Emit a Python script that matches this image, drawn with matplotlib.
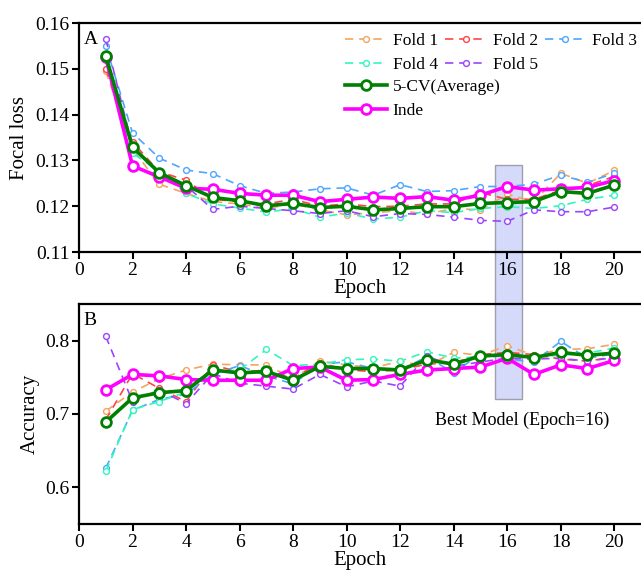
import matplotlib
matplotlib.use("Agg")
import matplotlib.pyplot as plt
from matplotlib.patches import Rectangle
import numpy as np

plt.rcParams['font.family'] = ['Liberation Serif', 'DejaVu Serif']

epochs = list(range(1, 21))

f1_loss = [0.1495, 0.1325, 0.1248, 0.1228, 0.1210, 0.1205, 0.1195, 0.1205, 0.1192, 0.1181,
           0.1186, 0.1190, 0.1183, 0.1195, 0.1192, 0.1226, 0.1210, 0.1272, 0.1250, 0.1278]
f2_loss = [0.1500, 0.1340, 0.1275, 0.1257, 0.1215, 0.1210, 0.1205, 0.1215, 0.1200, 0.1205,
           0.1199, 0.1200, 0.1205, 0.1205, 0.1230, 0.1215, 0.1215, 0.1235, 0.1245, 0.1265]
f3_loss = [0.1550, 0.1360, 0.1305, 0.1279, 0.1271, 0.1245, 0.1228, 0.1231, 0.1238, 0.1240,
           0.1224, 0.1247, 0.1232, 0.1234, 0.1243, 0.1243, 0.1248, 0.1268, 0.1252, 0.1272]
f4_loss = [0.1520, 0.1316, 0.1275, 0.1228, 0.1205, 0.1196, 0.1187, 0.1195, 0.1176, 0.1185,
           0.1172, 0.1176, 0.1190, 0.1186, 0.1195, 0.1199, 0.1195, 0.1201, 0.1215, 0.1224]
f5_loss = [0.1565, 0.1330, 0.1270, 0.1245, 0.1193, 0.1200, 0.1195, 0.1190, 0.1184, 0.1190,
           0.1177, 0.1184, 0.1182, 0.1176, 0.1169, 0.1167, 0.1192, 0.1188, 0.1188, 0.1198]
cv_loss = [0.1528, 0.1329, 0.1273, 0.1245, 0.1219, 0.1212, 0.1201, 0.1206, 0.1197, 0.1200,
           0.1192, 0.1195, 0.1199, 0.1199, 0.1206, 0.1208, 0.1210, 0.1232, 0.1228, 0.1246]
inde_loss = [0.1525, 0.1288, 0.1264, 0.1239, 0.1237, 0.1228, 0.1224, 0.1224, 0.1210, 0.1215,
             0.1220, 0.1217, 0.1221, 0.1213, 0.1224, 0.1243, 0.1235, 0.1238, 0.1241, 0.1256]

f1_acc = [0.704, 0.730, 0.748, 0.760, 0.768, 0.767, 0.767, 0.748, 0.772, 0.767,
          0.763, 0.772, 0.765, 0.784, 0.780, 0.793, 0.780, 0.788, 0.789, 0.795]
f2_acc = [0.692, 0.755, 0.735, 0.717, 0.767, 0.757, 0.760, 0.748, 0.770, 0.760,
          0.758, 0.760, 0.768, 0.770, 0.781, 0.784, 0.781, 0.775, 0.772, 0.778]
f3_acc = [0.626, 0.705, 0.720, 0.727, 0.754, 0.766, 0.752, 0.741, 0.768, 0.771,
          0.762, 0.760, 0.778, 0.756, 0.782, 0.775, 0.771, 0.799, 0.776, 0.782]
f4_acc = [0.622, 0.706, 0.717, 0.730, 0.757, 0.760, 0.788, 0.766, 0.768, 0.774,
          0.775, 0.772, 0.785, 0.776, 0.778, 0.781, 0.778, 0.780, 0.783, 0.790]
f5_acc = [0.806, 0.717, 0.733, 0.714, 0.755, 0.742, 0.738, 0.734, 0.754, 0.737,
          0.745, 0.738, 0.779, 0.765, 0.771, 0.776, 0.775, 0.776, 0.772, 0.777]
cv_acc = [0.689, 0.722, 0.729, 0.732, 0.760, 0.756, 0.758, 0.746, 0.765, 0.762,
          0.762, 0.760, 0.774, 0.768, 0.779, 0.781, 0.777, 0.784, 0.780, 0.783]
inde_acc = [0.733, 0.754, 0.752, 0.747, 0.746, 0.746, 0.746, 0.762, 0.764, 0.746,
            0.747, 0.754, 0.760, 0.762, 0.764, 0.776, 0.754, 0.767, 0.762, 0.773]

fold_labels = ['Fold 1', 'Fold 2', 'Fold 3', 'Fold 4', 'Fold 5']
fold_colors = ['#f4a460', '#ff4444', '#4da6ff', '#33f5c0', '#9b44ff']
cv_label = '5-CV(Average)'
inde_label = 'Inde'
cv_color = '#008000'
inde_color = '#ff00ff'
best_epoch = 16

W, H = 641, 573
fig = plt.figure(figsize=(W / 100, H / 100), dpi=100)

def ax_rect(left, top, right, bottom):
    return [left / W, 1 - bottom / H, (right - left) / W, (bottom - top) / H]

ax1 = fig.add_axes(ax_rect(79, 23, 641, 252))
ax2 = fig.add_axes(ax_rect(79, 304, 641, 524))

def draw(ax, folds, cv, inde):
    hs = []
    for vals, lab, col in zip(folds, fold_labels, fold_colors):
        h, = ax.plot(epochs, vals, linestyle=(0, (5, 3.5)), color=col, lw=1.2,
                     marker='o', ms=4.2, mfc='white', mec=col, mew=1.0, label=lab, zorder=2)
        hs.append(h)
    hi, = ax.plot(epochs, inde, color=inde_color, lw=2.6, marker='o', ms=7,
                  mfc='white', mec=inde_color, mew=2.0, label=inde_label, zorder=3)
    hc, = ax.plot(epochs, cv, color=cv_color, lw=2.6, marker='o', ms=7,
                  mfc='white', mec=cv_color, mew=2.0, label=cv_label, zorder=4)
    return hs, hc, hi

hs, hc, hi = draw(ax1, [f1_loss, f2_loss, f3_loss, f4_loss, f5_loss], cv_loss, inde_loss)
draw(ax2, [f1_acc, f2_acc, f3_acc, f4_acc, f5_acc], cv_acc, inde_acc)

for ax in (ax1, ax2):
    ax.set_facecolor('none')
    ax.set_xlim(0, 21)
    ax.set_xticks(range(0, 21, 2))
    ax.spines['right'].set_visible(False)
    for s in ('left', 'top', 'bottom'):
        ax.spines[s].set_linewidth(1.6)
    ax.tick_params(direction='out', length=5, width=1.5, labelsize=14, pad=2)
    ax.set_xlabel('Epoch', fontsize=15, labelpad=0)

ax1.set_ylim(0.11, 0.16)
ax1.set_yticks([0.11, 0.12, 0.13, 0.14, 0.15, 0.16])
ax1.set_yticklabels(['0.11', '0.12', '0.13', '0.14', '0.15', '0.16'])
ax1.set_ylabel('Focal loss', fontsize=15, labelpad=4)
ax2.set_ylim(0.55, 0.85)
ax2.set_yticks([0.6, 0.7, 0.8])
ax2.set_yticklabels(['0.6', '0.7', '0.8'])
ax2.set_ylabel('Accuracy', fontsize=15, labelpad=4)

ax1.text(0.008, 0.965, 'A', transform=ax1.transAxes, fontsize=14, va='top', ha='left')
ax2.text(0.008, 0.965, 'B', transform=ax2.transAxes, fontsize=14, va='top', ha='left')

# Legends
order = [hs[0], hs[3], hs[1], hs[4], hs[2]]
leg_kw = dict(frameon=False, loc='upper left', bbox_transform=fig.transFigure,
              fontsize=12.5, borderpad=0, borderaxespad=0, handlelength=2.4,
              handletextpad=0.35, columnspacing=0.4, labelspacing=0.44)
leg1 = ax1.legend(order, [h.get_label() for h in order], ncol=3,
                  bbox_to_anchor=(345 / W, 1 - 33 / H), **leg_kw)
ax1.add_artist(leg1)
ax1.legend([hc, hi], [cv_label, inde_label], bbox_to_anchor=(345 / W, 1 - 79 / H), **leg_kw)

# Highlight rectangle spanning both panels
fig.canvas.draw()
x0, y_top = ax1.transData.transform((best_epoch - 0.45, 0.129))
x1, y_bot = ax2.transData.transform((best_epoch + 0.55, 0.721))
inv = fig.transFigure.inverted()
(fx0, fy_top) = inv.transform((x0, y_top))
(fx1, fy_bot) = inv.transform((x1, y_bot))
rect = Rectangle((fx0, fy_bot), fx1 - fx0, fy_top - fy_bot, transform=fig.transFigure,
                 facecolor='#d5d9fa', edgecolor='#a0a0ac', lw=1.0, zorder=-1)
fig.patches.append(rect)

ax2.text(best_epoch + 0.55, 0.691, 'Best Model (Epoch=16)', fontsize=13,
         ha='center', va='center')

fig.savefig('out.png', dpi=100)
